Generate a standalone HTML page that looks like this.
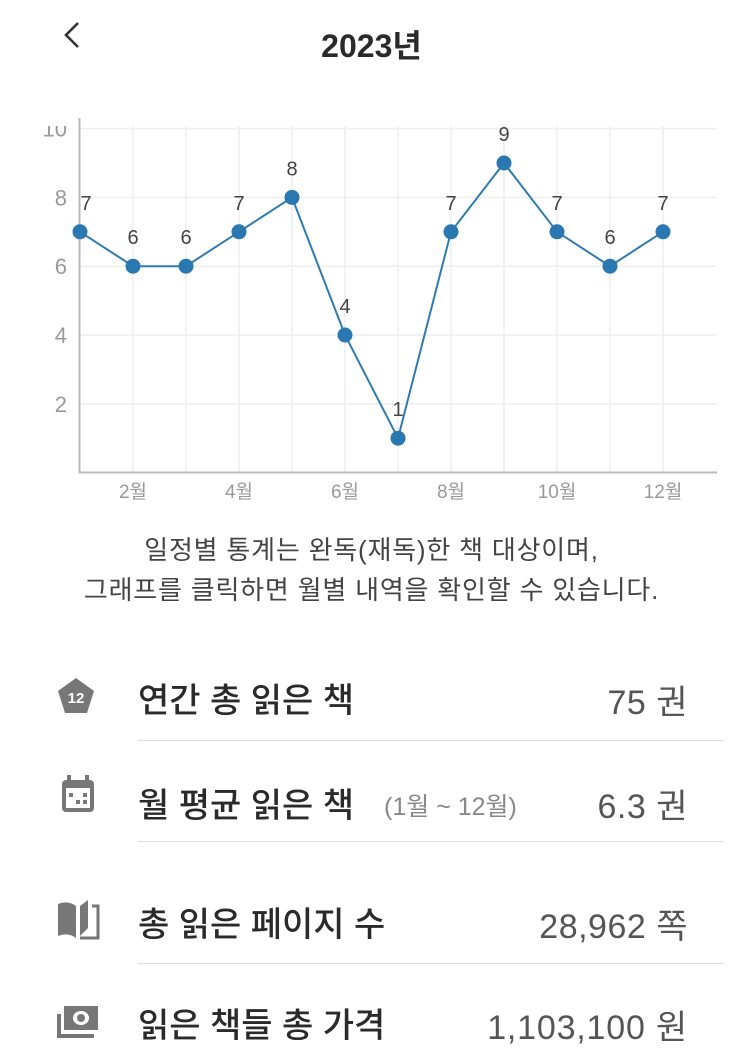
<!DOCTYPE html>
<html><head><meta charset="utf-8"><style>
body{margin:0;width:743px;height:1062px;background:#fff;font-family:"Liberation Sans","Noto Sans CJK KR",sans-serif;position:relative;overflow:hidden}
.a{position:absolute}
.row{position:absolute;left:138px;font-size:34px;color:#2a2a2a;font-weight:500;white-space:nowrap}
.val{position:absolute;right:55px;font-size:34px;color:#555;white-space:nowrap;letter-spacing:0.5px}
.sep{position:absolute;left:138px;width:586px;height:1px;background:#ddd}
</style></head><body>
<svg class="a" style="left:58px;top:18px" width="30" height="34"><polyline points="20,5 8,17 20,29" fill="none" stroke="#333" stroke-width="2.6"/></svg>
<div class="a" style="left:0;width:743px;top:21px;text-align:center;font-size:32px;color:#2a2a2a;font-weight:bold">2023년</div>
<svg class="a" style="left:0;top:0" width="743" height="510" id="chart"></svg>
<div class="a" style="left:0;width:743px;top:530px;text-align:center;font-size:26px;letter-spacing:0.8px;line-height:40px;color:#444">일정별 통계는 완독(재독)한 책 대상이며,<br>그래프를 클릭하면 월별 내역을 확인할 수 있습니다.</div>

<svg class="a" style="left:56px;top:676px" width="40" height="40"><polygon points="20,2 38,15 31,37 9,37 2,15" fill="#777"/><text x="20" y="27" text-anchor="middle" font-size="15" font-weight="bold" fill="#fff" font-family="Liberation Sans">12</text></svg>
<div class="row" style="top:673px">연간 총 읽은 책</div>
<div class="val" style="top:675px">75 권</div>
<div class="sep" style="top:740px"></div>

<svg class="a" style="left:60px;top:774px" width="36" height="40"><rect x="2" y="6" width="32" height="32" rx="4" fill="#777"/><rect x="6" y="14" width="24" height="20" fill="#fff"/><rect x="7" y="1" width="4" height="9" fill="#777"/><rect x="25" y="1" width="4" height="9" fill="#777"/><rect x="9" y="19" width="4" height="4" fill="#777"/><rect x="23" y="19" width="4" height="4" fill="#777"/><rect x="16" y="26" width="4" height="4" fill="#777"/><rect x="23" y="26" width="4" height="4" fill="#777"/></svg>
<div class="row" style="top:778px">월 평균 읽은 책<span style="font-size:25px;color:#888;font-weight:normal;margin-left:30px;position:relative;top:-2px">(1월 ~ 12월)</span></div>
<div class="val" style="top:779px">6.3 권</div>
<div class="sep" style="top:841px"></div>

<svg class="a" style="left:56px;top:898px" width="44" height="42"><path d="M2,6 Q12,2 20,8 L20,40 Q12,34 2,38Z" fill="#777"/><path d="M24,8 L32,2 L32,30 L24,38Z" fill="#777"/><path d="M36,8 L42,8 L42,40 L24,40" fill="none" stroke="#777" stroke-width="3"/></svg>
<div class="row" style="top:897px">총 읽은 페이지 수</div>
<div class="val" style="top:899px">28,962 쪽</div>
<div class="sep" style="top:963px"></div>

<svg class="a" style="left:56px;top:1002px" width="44" height="40"><rect x="8" y="4" width="34" height="24" fill="#777"/><ellipse cx="25" cy="16" rx="8" ry="7" fill="#fff"/><circle cx="25" cy="16" r="4" fill="#777"/><path d="M3,12 L3,34 L38,34" fill="none" stroke="#777" stroke-width="4"/></svg>
<div class="row" style="top:998px">읽은 책들 총 가격</div>
<div class="val" style="top:1000px;letter-spacing:0.8px">1,103,100 원</div>

<script>
const months=['1월','2월','3월','4월','5월','6월','7월','8월','9월','10월','11월','12월'];
const books=[7,6,6,7,8,4,1,7,9,7,6,7];
const yTicks=[2,4,6,8,10];
const xTickLabels=['2월','4월','6월','8월','10월','12월'];
const svg=document.getElementById('chart');
const NS='http://www.w3.org/2000/svg';
const x=i=>80+53*i;
const y=v=>472.6-34.4*v;
function mk(t,a){const e=document.createElementNS(NS,t);for(const k in a)e.setAttribute(k,a[k]);svg.appendChild(e);return e;}
yTicks.forEach(v=>{const g=mk('line',{x1:80,x2:717,y1:y(v),y2:y(v),stroke:'#eee','stroke-width':1.5});


const t=mk('text',{x:67,y:y(v)+8,'text-anchor':'end','font-size':22,fill:'#999','font-family':'Liberation Sans'});t.textContent=v;

});
months.forEach((m,i)=>{if(i>0){const g=mk('line',{x1:x(i),x2:x(i),y1:126,y2:472,stroke:'#eee','stroke-width':1.5});

}
if(xTickLabels.includes(m)){const t=mk('text',{x:x(i),y:498,'text-anchor':'middle','font-size':19,fill:'#999','font-family':'Liberation Sans, Noto Sans CJK KR, sans-serif'});t.textContent=m;

}});
mk('rect',{x:0,y:100,width:743,height:26,fill:'#fff'});
const ax=mk('path',{d:'M79.5,118 L79.5,472.5 L717,472.5',fill:'none',stroke:'#bbb','stroke-width':2});


const ln=mk('polyline',{points:books.map((v,i)=>x(i)+','+y(v)).join(' '),fill:'none',stroke:'#2e7bb0','stroke-width':2});


books.forEach((v,i)=>{const c=mk('circle',{cx:x(i),cy:y(v),r:7.5,fill:'#2a78b2'});


const t=mk('text',{x:x(i)+(i==0?6:0),y:y(v)-22,'text-anchor':'middle','font-size':20,fill:'#444','font-family':'Liberation Sans'});t.textContent=v;

});
</script>
</body></html>
